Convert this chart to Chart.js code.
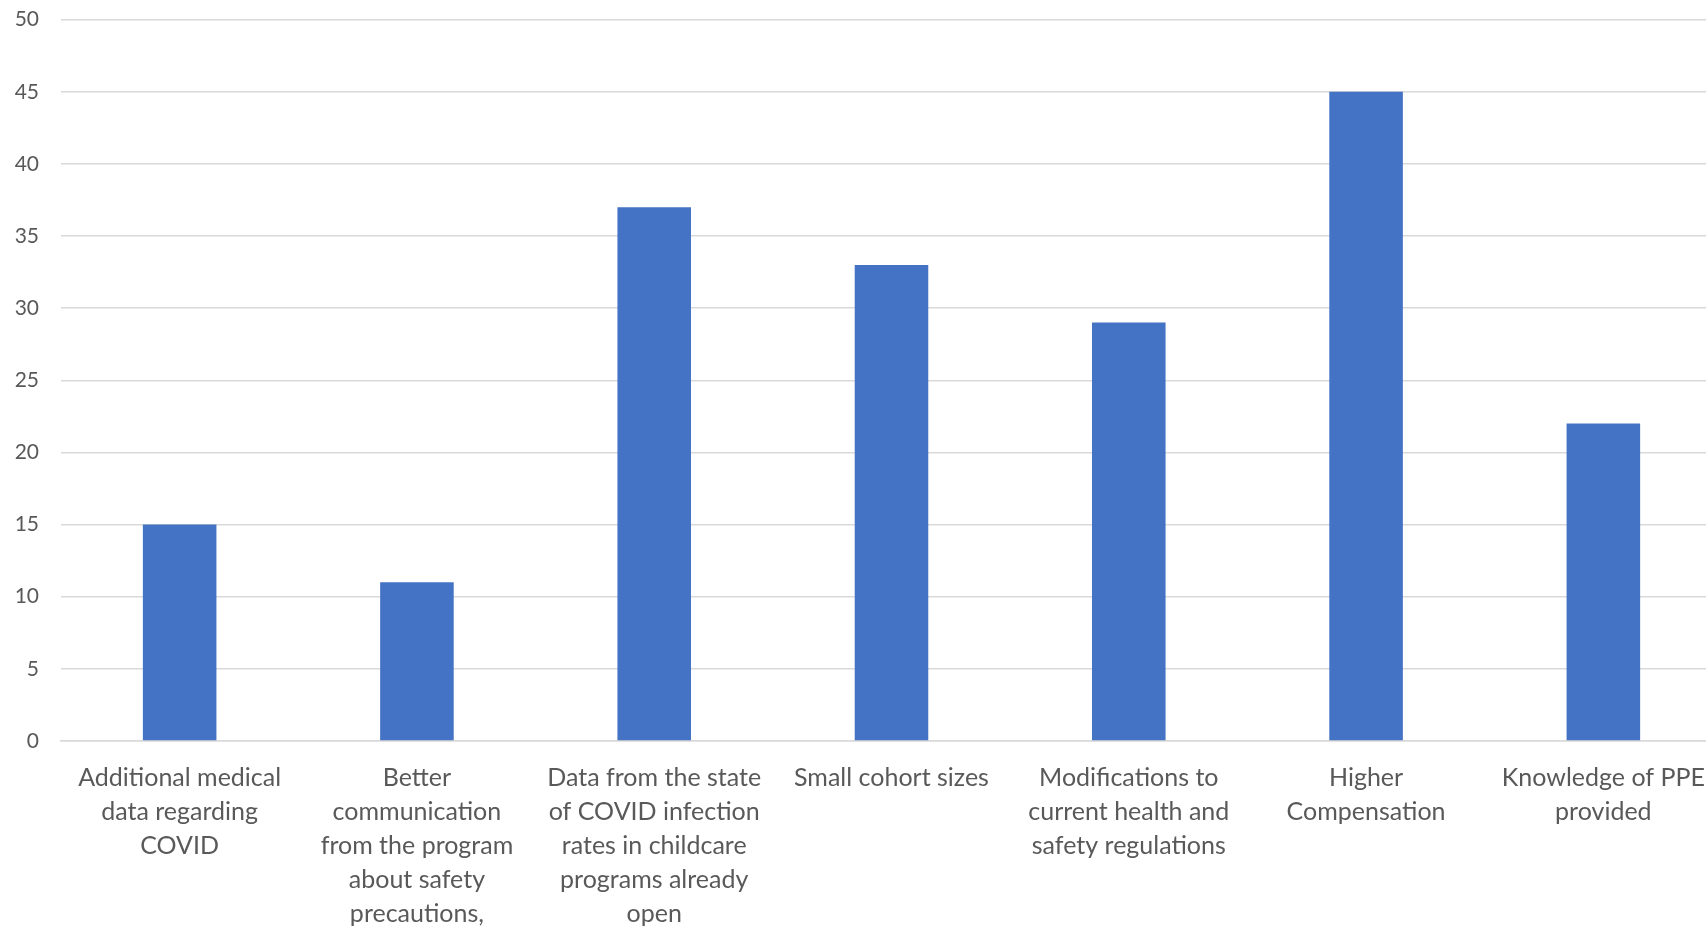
<!DOCTYPE html>
<html>
<head>
<meta charset="utf-8">
<script src="https://cdn.jsdelivr.net/npm/chart.js@4/dist/chart.umd.min.js"></script>
<style>
  html, body { margin: 0; padding: 0; background: #fff; overflow: hidden; }
  #wrap { width: 1730px; height: 943px; margin-top: -15px; position: relative; }
</style>
</head>
<body>
<div id="wrap"><canvas id="chart"></canvas></div>
<script>
// survey answers - what would make staff feel safer
const categories = [
  ["Additional medical", "data regarding", "COVID"],
  ["Better", "communication", "from the program", "about safety", "precautions,"],
  ["Data from the state", "of COVID infection", "rates in childcare", "programs already", "open"],
  ["Small cohort sizes"],
  ["Modifications to", "current health and", "safety regulations"],
  ["Higher", "Compensation"],
  ["Knowledge of PPE", "provided"]
];
const counts = [15, 11, 37, 33, 29, 45, 22];
const yTicks = [0, 5, 10, 15, 20, 25, 30, 35, 40, 45, 50];

const ctx = document.getElementById("chart").getContext("2d");
new Chart(ctx, {
  type: "bar",
  data: {
    labels: categories,
    datasets: [
      {
        label: "Count",
        data: counts,
        backgroundColor: "#4472c4",
        categoryPercentage: 1,
        barPercentage: 0.31,
      },
    ],
  },
  options: {
    responsive: true,
    maintainAspectRatio: false,
    animation: false,
    layout: { padding: { top: 8, right: 8, left: 0, bottom: 0 } },
    plugins: {
      legend: { display: false },
      tooltip: { enabled: false },
    },
    scales: {
      x: {
        grid: { display: false, drawTicks: false },
        border: { display: true, color: "#d9d9d9", width: 1.5 },
        ticks: {
          color: "#595959",
          padding: 20,
          maxRotation: 0,
          autoSkip: false,
          font: { family: "Lato", size: 25, lineHeight: "34px" },
        },
        afterFit: (scale) => { scale.height = 187; },
      },
      y: {
        min: 0,
        max: 50,
        afterBuildTicks: (scale) => { scale.ticks = yTicks.map((v) => ({ value: v })); },
        grid: { color: "#d9d9d9", lineWidth: 1.5, drawTicks: false },
        border: { display: false },
        ticks: {
          color: "#595959",
          padding: 22,
          font: { family: "Lato", size: 21 },
        },
        afterFit: (scale) => { scale.width = 61; },
      },
    },
  },
});
</script>
</body>
</html>
